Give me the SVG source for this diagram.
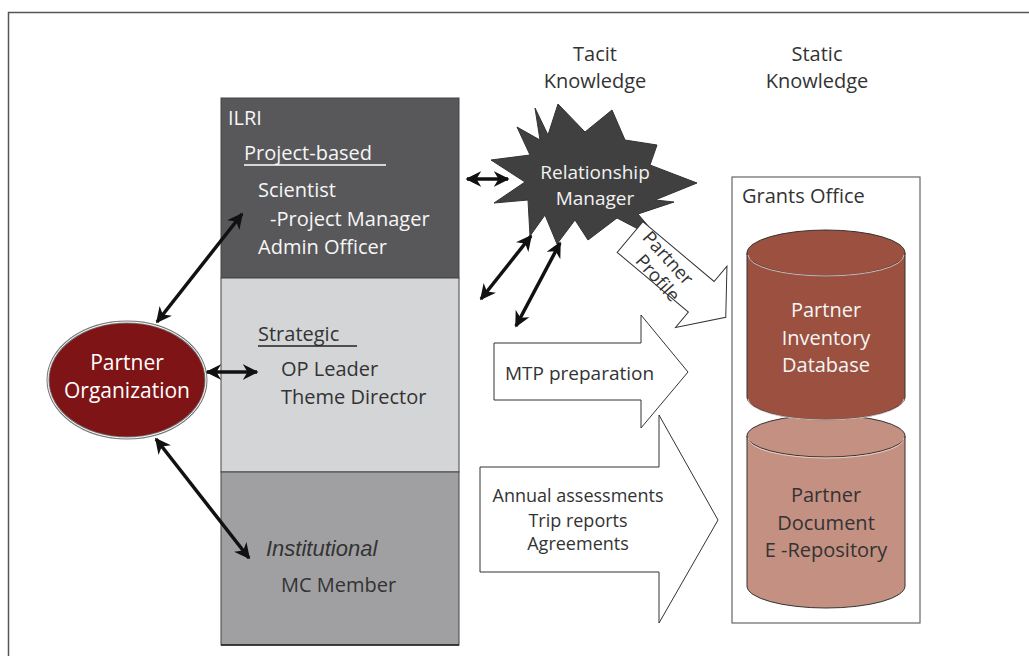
<svg xmlns="http://www.w3.org/2000/svg" width="1029" height="656" viewBox="0 0 1029 656">
  <style>
    text { font-family: "Open Sans", Lato, "Liberation Sans", sans-serif; }
    .head { font-size: 20px; fill: #333; text-anchor: middle; }
    .lw { font-size: 20px; fill: #f6f6f6; }
    .ld { font-size: 20px; fill: #333; }
    .blk { fill: #ffffff; stroke: #333; stroke-width: 1; }
    .conn { stroke: #111; stroke-width: 3.5; fill: none; marker-start: url(#tip); marker-end: url(#tip); }
  </style>
  <defs>
    <marker id="tip" viewBox="0 0 10 10" refX="9" refY="5" markerWidth="4.5" markerHeight="4.5" orient="auto-start-reverse" markerUnits="strokeWidth">
      <path d="M0,0 L10,5 L0,10 L3,5 Z" fill="#111"/>
    </marker>
  </defs>

  <!-- page frame -->
  <rect x="8.5" y="12.5" width="1040" height="660" fill="#ffffff" stroke="#555" stroke-width="1.5"/>

  <!-- column headings -->
  <g id="tacit-heading">
    <text class="head" x="595" y="61">Tacit</text>
    <text class="head" x="595" y="88">Knowledge</text>
  </g>
  <g id="static-heading">
    <text class="head" x="817" y="61">Static</text>
    <text class="head" x="817" y="88">Knowledge</text>
  </g>

  <!-- ILRI stack -->
  <g id="ilri">
    <rect x="221" y="98" width="238" height="180" fill="#58585a" stroke="#444" stroke-width="1"/>
    <rect x="221" y="278" width="238" height="194" fill="#d4d5d7" stroke="#444" stroke-width="1"/>
    <rect x="221" y="472" width="238" height="173" fill="#a0a0a2" stroke="#444" stroke-width="1"/>
    <line x1="221" y1="645" x2="459" y2="645" stroke="#222" stroke-width="1.5"/>
    <text class="lw" x="228" y="125">ILRI</text>
    <text class="lw" x="244" y="160">Project-based</text>
    <line x1="244" y1="165" x2="386" y2="165" stroke="#fff" stroke-width="1.5"/>
    <text class="lw" x="258" y="197">Scientist</text>
    <text class="lw" x="270" y="226">-Project Manager</text>
    <text class="lw" x="258" y="254">Admin Officer</text>
    <text class="ld" x="258" y="341">Strategic</text>
    <line x1="258" y1="346" x2="357" y2="346" stroke="#222" stroke-width="1.5"/>
    <text class="ld" x="281" y="376">OP Leader</text>
    <text class="ld" x="281" y="404">Theme Director</text>
    <text x="266" y="556" style="font-family:'Liberation Sans',Arial,sans-serif;font-style:italic;font-size:22px;fill:#333">Institutional</text>
    <text class="ld" x="281" y="592">MC Member</text>
  </g>

  <!-- partner organization -->
  <g id="partner-org">
    <ellipse cx="127" cy="380" rx="79" ry="58" fill="#7f1416" stroke="#777" stroke-width="3"/>
    <ellipse cx="127" cy="380" rx="79" ry="58" fill="none" stroke="#fff" stroke-width="1"/>
    <text x="127" y="370" text-anchor="middle" style="font-size:21px;fill:#fff">Partner</text>
    <text x="127" y="398" text-anchor="middle" style="font-size:21px;fill:#fff">Organization</text>
  </g>

  <!-- relationship manager -->
  <g id="relationship-manager">
    <polygon fill="#404040" stroke="#333" stroke-width="1"
      points="535,108 548,135 558,104 585,132 612,110 625,140 657,145 650,165 697,183 655,200 674,202 638,214 661,241 617,218 588,240 575,220 557,244 545,215 530,236 528,200 494,203 525,182 491,160 530,155 517,127 540,140"/>
    <text x="595" y="179" text-anchor="middle" style="font-size:19px;fill:#f2f2f2">Relationship</text>
    <text x="595" y="205" text-anchor="middle" style="font-size:19px;fill:#f2f2f2">Manager</text>
  </g>

  <!-- partner profile flow -->
  <g id="partner-profile">
    <polygon class="blk" transform="translate(630,237) rotate(40)" points="0,-20 93,-20 93,-40 125,0 93,40 93,20 0,20"/>
    <g transform="translate(663,268) rotate(48)">
      <text x="-4" y="-4" text-anchor="middle" style="font-size:18.5px;fill:#333">Partner</text>
      <text x="4" y="17" text-anchor="middle" style="font-size:18.5px;fill:#333">Profile</text>
    </g>
  </g>

  <!-- grants office -->
  <g id="grants-office">
    <rect x="732" y="177" width="188" height="446" fill="#ffffff" stroke="#666" stroke-width="1.2"/>
    <text class="ld" x="742" y="203">Grants Office</text>
  </g>

  <!-- document e-repository -->
  <g id="e-repository">
    <path d="M747,436 L747,586 A79,22 0 0 0 905,586 L905,436 Z" fill="#c39082" stroke="#333" stroke-width="1"/>
    <ellipse cx="826" cy="436" rx="79" ry="21" fill="#c39082" stroke="#333" stroke-width="1"/>
    <path d="M748,438 A78,20 0 0 0 904,438" fill="none" stroke="#f0e0da" stroke-width="0.8"/>
    <text class="ld" x="826" y="502" text-anchor="middle">Partner</text>
    <text class="ld" x="826" y="530" text-anchor="middle">Document</text>
    <text class="ld" x="826" y="557" text-anchor="middle">E -Repository</text>
  </g>

  <!-- inventory database -->
  <g id="inventory-db">
    <path d="M747,253 L747,397 A79,23 0 0 0 905,397 L905,253 Z" fill="#9b5040" stroke="#333" stroke-width="1"/>
    <path d="M748,399 A78,21 0 0 0 904,399" fill="none" stroke="#f0e0da" stroke-width="0.8"/>
    <ellipse cx="826" cy="253" rx="79" ry="23" fill="#9b5040" stroke="#333" stroke-width="1"/>
    <path d="M748,255 A78,21 0 0 0 904,255" fill="none" stroke="#f0e0da" stroke-width="0.8"/>
    <text class="lw" x="826" y="317" text-anchor="middle">Partner</text>
    <text class="lw" x="826" y="345" text-anchor="middle">Inventory</text>
    <text class="lw" x="826" y="372" text-anchor="middle">Database</text>
  </g>

  <!-- MTP preparation flow -->
  <g id="mtp">
    <polygon class="blk" points="494,343 641,343 641,315 688,372 641,428 641,400 494,400"/>
    <text class="ld" x="505" y="380" style="font-size:19px">MTP preparation</text>
  </g>

  <!-- reports flow -->
  <g id="reports">
    <polygon class="blk" points="480,467 659,467 659,415 718,520 659,623 659,572 480,572"/>
    <text class="ld" x="578" y="502" text-anchor="middle" style="font-size:18px">Annual assessments</text>
    <text class="ld" x="578" y="527" text-anchor="middle" style="font-size:18px">Trip reports</text>
    <text class="ld" x="578" y="550" text-anchor="middle" style="font-size:18px">Agreements</text>
  </g>

  <!-- two-way links -->
  <g id="connectors">
    <line class="conn" x1="157" y1="322" x2="242" y2="214"/>
    <line class="conn" x1="207" y1="372" x2="257" y2="372"/>
    <line class="conn" x1="156" y1="439" x2="249" y2="558"/>
    <line class="conn" x1="467" y1="179" x2="508" y2="179"/>
    <line class="conn" x1="481" y1="299" x2="531" y2="236"/>
    <line class="conn" x1="516" y1="326" x2="560" y2="243"/>
  </g>
</svg>
